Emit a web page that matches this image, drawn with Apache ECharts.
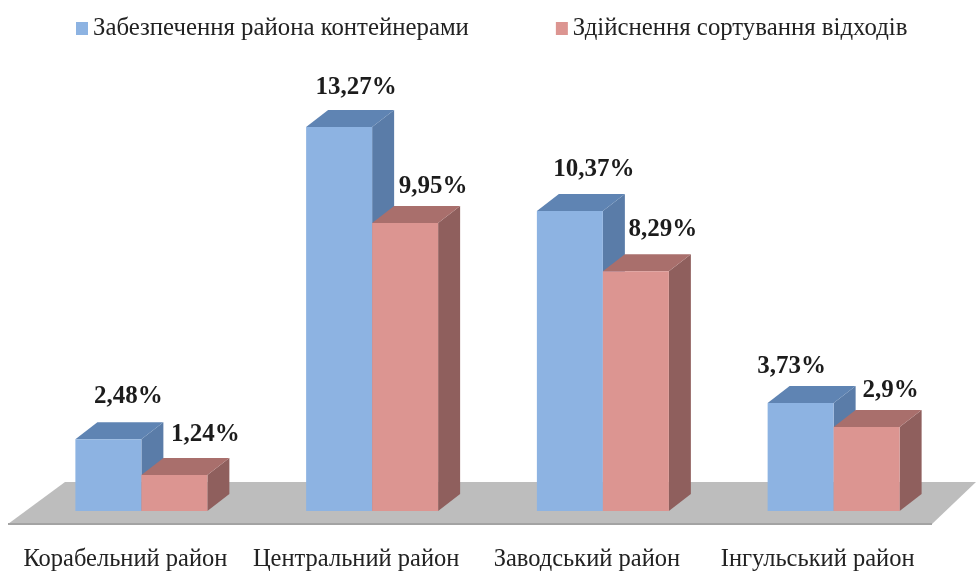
<!DOCTYPE html>
<html>
<head>
<meta charset="utf-8">
<style>
    html, body { margin: 0; padding: 0; background: #fff; }
    #chart { width: 976px; height: 572px; }
</style>
<script src="https://cdn.jsdelivr.net/npm/echarts@6/dist/echarts.min.js"></script>
</head>
<body>
<div id="chart"></div>
<script>
const categories = ['Корабельний район', 'Центральний район', 'Заводський район', 'Інгульський район'];
const containerName = 'Забезпечення района контейнерами';
const sortingName = 'Здійснення сортування відходів';
const containerValues = [2.48, 13.27, 10.37, 3.73];
const sortingValues = [1.24, 9.95, 8.29, 2.9];

// подпись каждого столбца стоит со своим сдвигом от верха передней грани
const containerLabelShift = [[20, -43], [17, -40], [24, -41], [-9, -37]];
const sortingLabelShift = [[31, -41], [28, -37], [27, -42], [24, -37]];

const DEPTH_X = 22;
const DEPTH_Y = 17;
const BAR_SHARE = 0.286;
const FONT = '"Liberation Serif", "DejaVu Serif", serif';

const chart = echarts.init(document.getElementById('chart'));

const poly = (points, fill) => ({
    type: 'polygon',
    shape: { points },
    style: { fill }
});

const createBarRender = (side, colors, values, shifts) => (params, api) => {
    const index = api.value(0);
    const value = api.value(1);
    const top = api.coord([index, value]);
    const base = api.coord([index, 0]);
    const width = api.size([1, 0])[0] * BAR_SHARE;
    const x0 = side < 0 ? top[0] - width : top[0];
    const x1 = x0 + width;
    const shift = shifts[index];
    return {
        type: 'group',
        children: [
            poly([[x1, top[1]], [x1 + DEPTH_X, top[1] - DEPTH_Y], [x1 + DEPTH_X, base[1] - DEPTH_Y], [x1, base[1]]], colors.side),
            poly([[x0, top[1]], [x0 + DEPTH_X, top[1] - DEPTH_Y], [x1 + DEPTH_X, top[1] - DEPTH_Y], [x1, top[1]]], colors.top),
            poly([[x0, top[1]], [x1, top[1]], [x1, base[1]], [x0, base[1]]], colors.front),
            {
                type: 'text',
                z2: 10,
                style: {
                    x: (x0 + x1) / 2 + shift[0],
                    y: top[1] + shift[1],
                    text: String(values[index]).replace('.', ',') + '%',
                    align: 'center',
                    verticalAlign: 'middle',
                    fill: '#1c1c1c',
                    font: 'bold 25px ' + FONT
                }
            }
        ]
    };
};

const renderFloor = (params, api) => {
    const box = params.coordSys;
    const y = api.coord([0, 0])[1];
    const front = y + 13;
    const back = y - 29;
    const left = box.x - 18;
    const right = box.x + box.width - 17;
    return {
        type: 'group',
        children: [
            poly([[left, front], [right, front], [right + 44, back], [left + 57, back]], '#bdbdbd'),
            { type: 'line', shape: { x1: left, y1: front, x2: right, y2: front }, style: { stroke: '#a3a3a3', lineWidth: 2 } }
        ]
    };
};

const blue = { front: '#8db3e2', side: '#5a7ca8', top: '#5f84b3' };
const red = { front: '#dc9591', side: '#8f5f5d', top: '#a96f6c' };

chart.setOption({
    animation: false,
    backgroundColor: '#fff',
    legend: {
        data: [containerName, sortingName],
        left: 71,
        top: 11,
        icon: 'rect',
        itemWidth: 12,
        itemHeight: 13,
        itemGap: 87,
        textStyle: { fontFamily: FONT, fontSize: 24.8, color: '#222' }
    },
    grid: { left: 26, right: 27, top: 77, bottom: 61 },
    xAxis: {
        type: 'category',
        data: categories,
        axisLine: { show: false },
        axisTick: { show: false },
        axisLabel: {
            interval: 0,
            margin: 36,
            fontFamily: FONT,
            fontSize: 24.5,
            color: '#222',
            padding: [0, 32, 0, 0]
        }
    },
    yAxis: { type: 'value', min: 0, max: 15, show: false },
    series: [
        {
            type: 'custom',
            name: 'floor',
            silent: true,
            renderItem: renderFloor,
            data: [[0, 0]],
            encode: { x: 0, y: 1 }
        },
        {
            type: 'custom',
            name: containerName,
            itemStyle: { color: blue.front },
            renderItem: createBarRender(-1, blue, containerValues, containerLabelShift),
            data: containerValues.map((v, i) => [i, v]),
            encode: { x: 0, y: 1 }
        },
        {
            type: 'custom',
            name: sortingName,
            itemStyle: { color: red.front },
            renderItem: createBarRender(1, red, sortingValues, sortingLabelShift),
            data: sortingValues.map((v, i) => [i, v]),
            encode: { x: 0, y: 1 }
        }
    ]
});
</script>
</body>
</html>
